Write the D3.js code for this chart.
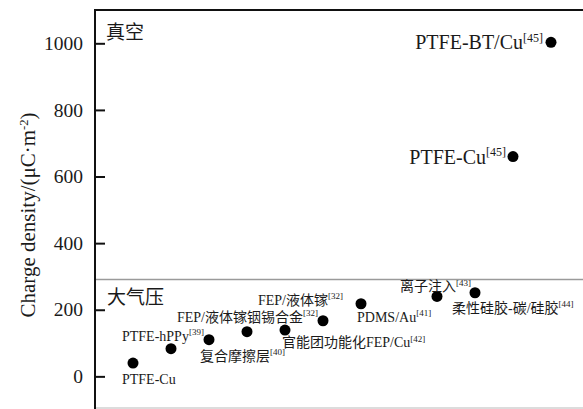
<!DOCTYPE html>
<html>
<head>
<meta charset="utf-8">
<script src="https://cdn.jsdelivr.net/npm/d3@7"></script>
<style>
  html, body { margin: 0; padding: 0; background: #fff; }
  svg { display: block; }
  text { font-family: "Times New Roman", "Liberation Serif", "DejaVu Serif", "Noto Sans CJK SC", serif; fill: #1a1a1a; }
</style>
</head>
<body>
<svg id="chart" width="583" height="409"></svg>
<script>
// Sample positions along the horizontal axis (no axis drawn for them)
const sampleIndex = [1, 2, 3, 4, 5, 6, 7, 9, 10, 11, 12];
// Output charge density, µC·m⁻²
const chargeDensity = [40, 83, 110, 134, 139, 167, 218, 240, 251, 660, 1003];
// Material / method names and their reference numbers
const labelNames = [
  "PTFE-Cu", "PTFE-hPPy", "复合摩擦层", "FEP/液体镓铟锡合金",
  "官能团功能化FEP/Cu", "FEP/液体镓", "PDMS/Au", "离子注入",
  "柔性硅胶-碳/硅胶", "PTFE-Cu", "PTFE-BT/Cu"
];
const labelRefs = ["", "[39]", "[40]", "[32]", "[42]", "[32]", "[41]", "[43]", "[44]", "[45]", "[45]"];
const yTicks = [0, 200, 400, 600, 800, 1000];
// Boundary between vacuum and atmospheric-pressure results
const regionBoundary = 291;
const regionNames = ["真空", "大气压"];

// Label placement relative to each point: [dx, dy to text middle, anchor, font size]
const labelPlacement = [
  [-11, 16, "start", 14], [-49, -13, "start", 14], [-9, 16, "start", 14],
  [-70, -15, "start", 14], [-3, 12, "start", 14], [-65, -21, "start", 14],
  [-4, 13, "start", 14], [-37, -10, "start", 14], [-23, 15, "start", 14],
  [-7, 0, "end", 20], [-8, 0, "end", 20]
];

const serif = "'Times New Roman', 'Liberation Serif', 'DejaVu Serif', 'Noto Sans CJK SC', serif";

const svg = d3.select("#chart");
const plotLeft = 95, plotTop = 10, plotRight = 589, plotBottom = 408;

const x = d3.scaleLinear().domain([0, 13]).range([plotLeft, plotRight]);
const y = d3.scaleLinear().domain([-95, 1100]).range([plotBottom, plotTop]);

// Light bottom border
svg.append("line")
  .attr("x1", plotLeft).attr("x2", 583).attr("y1", plotBottom).attr("y2", plotBottom)
  .attr("stroke", "#d0d0d0").attr("stroke-width", 1.5);

// Region separator
svg.append("line")
  .attr("x1", plotLeft).attr("x2", 583)
  .attr("y1", y(regionBoundary)).attr("y2", y(regionBoundary))
  .attr("stroke", "#9a9a9a").attr("stroke-width", 1.5);

// Top frame line
svg.append("line")
  .attr("x1", plotLeft).attr("x2", 583).attr("y1", plotTop).attr("y2", plotTop)
  .attr("stroke", "#111").attr("stroke-width", 2);

// Y axis with inward ticks
const yAxis = d3.axisLeft(y).tickValues(yTicks).tickSize(-10).tickPadding(12).tickFormat(d3.format("d"));
const gy = svg.append("g").attr("transform", `translate(${plotLeft},0)`).call(yAxis);
gy.attr("font-family", null);
gy.select(".domain").remove();
gy.selectAll(".tick line").attr("stroke", "#111").attr("stroke-width", 2);
gy.selectAll(".tick text")
  .style("font-family", serif)
  .style("font-size", "19.5px").attr("fill", "#1a1a1a");
svg.append("line")
  .attr("x1", plotLeft).attr("x2", plotLeft).attr("y1", plotTop - 1).attr("y2", 409)
  .attr("stroke", "#111").attr("stroke-width", 2);

// Y axis title
const title = svg.append("text")
  .attr("transform", "translate(35,215) rotate(-90)")
  .attr("text-anchor", "middle")
  .style("font-family", serif)
  .style("font-size", "21px");
title.append("tspan").text("Charge density/(μC·m");
title.append("tspan").text("-2").style("font-size", "12.5px").attr("dy", -7.5);
title.append("tspan").text(")").attr("dy", 7.5);

// Region names
svg.append("text").attr("x", 106).attr("y", 32).attr("dy", "0.35em")
  .style("font-size", "19px").style("font-family", "'Noto Sans CJK SC'").text(regionNames[0]);
svg.append("text").attr("x", 107).attr("y", 297).attr("dy", "0.35em")
  .style("font-size", "19px").style("font-family", "'Noto Sans CJK SC'").text(regionNames[1]);

// Points
svg.append("g").selectAll("circle")
  .data(chargeDensity)
  .join("circle")
  .attr("cx", (d, i) => x(sampleIndex[i]))
  .attr("cy", d => y(d))
  .attr("r", 5.5)
  .attr("fill", "#000");

// Point labels with superscript references
const labels = svg.append("g").selectAll("text")
  .data(chargeDensity)
  .join("text")
  .attr("x", (d, i) => x(sampleIndex[i]) + labelPlacement[i][0])
  .attr("y", (d, i) => y(d) + labelPlacement[i][1])
  .attr("dy", "0.35em")
  .attr("text-anchor", (d, i) => labelPlacement[i][2])
  .style("font-family", serif)
  .style("font-size", (d, i) => labelPlacement[i][3] + "px");
labels.append("tspan").text((d, i) => labelNames[i]);
labels.append("tspan")
  .text((d, i) => labelRefs[i])
  .style("font-size", (d, i) => Math.round(labelPlacement[i][3] * 0.62) + "px")
  .attr("dy", (d, i) => -labelPlacement[i][3] * 0.38);
</script>
</body>
</html>
